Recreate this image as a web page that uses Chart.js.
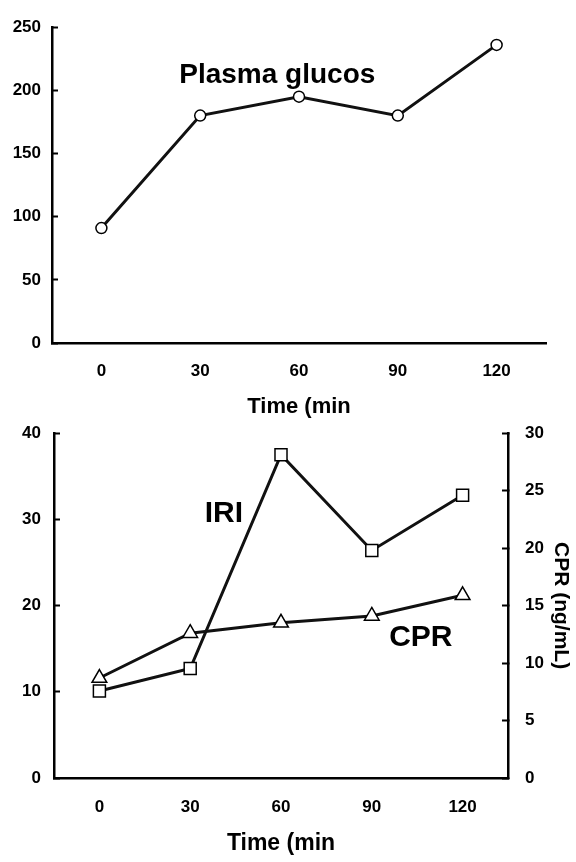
<!DOCTYPE html>
<html>
<head>
<meta charset="utf-8">
<script src="https://cdn.jsdelivr.net/npm/chart.js@4.4.1/dist/chart.umd.min.js"></script>
<style>
  html, body { margin: 0; padding: 0; background: #fff; }
  body { width: 576px; height: 862px; position: relative; overflow: hidden; }
  canvas { position: absolute; left: 0; }
  #glucose { top: 0; }
  #insulin { top: 400px; }
</style>
</head>
<body>
<canvas id="glucose" width="576" height="420"></canvas>
<canvas id="insulin" width="576" height="462"></canvas>
<script>
// data
var timeLabels = ['0', '30', '60', '90', '120'];
var glucose = [91, 180, 195, 180, 236];
var iri = [10.1, 12.7, 37.5, 26.4, 32.8];
var cpr = [8.7, 12.6, 13.5, 14.1, 15.9];

var glucoseTicks = [0, 50, 100, 150, 200, 250];
var iriTicks = [0, 10, 20, 30, 40];
var cprTicks = [0, 5, 10, 15, 20, 25, 30];

var FONT = "'Liberation Sans', Arial, Helvetica, sans-serif";
Chart.defaults.font.family = FONT;
Chart.defaults.font.weight = 'bold';
Chart.defaults.color = '#000';

// text notes placed in data coordinates
var notesPlugin = {
    id: 'notes',
    afterDatasetsDraw: function (chart, args, opts) {
        var ctx = chart.ctx;
        (opts.items || []).forEach(function (n) {
            var x = chart.scales.x.getPixelForValue(n.x);
            var y = chart.scales[n.axis].getPixelForValue(n.y);
            ctx.save();
            ctx.font = 'bold ' + n.size + 'px ' + FONT;
            ctx.fillStyle = '#000';
            ctx.textAlign = 'center';
            ctx.textBaseline = 'middle';
            ctx.fillText(n.text, x, y);
            ctx.restore();
        });
    }
};

function fixedTicks(list) {
    return function (scale) {
        scale.ticks = list.map(function (v) { return { value: v }; });
    };
}

function yAxis(pos, max, list, width, pad, title) {
    return {
        type: 'linear',
        position: pos,
        min: 0,
        max: max,
        afterBuildTicks: fixedTicks(list),
        afterFit: function (s) { s.width = width; },
        border: { display: true, color: '#000', width: 2.5 },
        grid: { drawOnChartArea: false, drawTicks: true, tickLength: -6, tickColor: '#000', tickWidth: 2 },
        ticks: { padding: pad, font: { size: 17, weight: 'bold' }, color: '#000' },
        title: title || { display: false }
    };
}

function xAxis(height, pad, titleSize, titlePadBottom) {
    return {
        type: 'category',
        offset: true,
        afterFit: function (s) { s.height = height; },
        border: { display: true, color: '#000', width: 2.5 },
        grid: { display: false, drawTicks: false },
        ticks: { padding: pad, font: { size: 17, weight: 'bold' }, color: '#000' },
        title: {
            display: true,
            text: 'Time (min',
            color: '#000',
            font: { size: titleSize, weight: 'bold' },
            padding: { top: 0, bottom: titlePadBottom }
        }
    };
}

function lineSet(label, data, style, radius, axis) {
    return {
        label: label,
        data: data,
        yAxisID: axis,
        borderColor: '#111',
        borderWidth: 3,
        tension: 0,
        pointStyle: style,
        pointRadius: radius,
        pointBackgroundColor: '#fff',
        pointBorderColor: '#000',
        pointBorderWidth: 1.5
    };
}

new Chart(document.getElementById('glucose'), {
    type: 'line',
    data: {
        labels: timeLabels,
        datasets: [lineSet('Plasma glucos', glucose, 'circle', 5.5, 'y')]
    },
    options: {
        responsive: false,
        animation: false,
        devicePixelRatio: 1,
        layout: { padding: { top: 17, right: 30, bottom: 0, left: 0 } },
        scales: {
            x: xAxis(77, 18, 22, 0),
            y: yAxis('left', 250, glucoseTicks, 52, 17)
        },
        plugins: {
            legend: { display: false },
            tooltip: { enabled: false },
            notes: { items: [{ text: 'Plasma glucos', x: 1.78, y: 212, axis: 'y', size: 28 }] }
        }
    },
    plugins: [notesPlugin]
});

new Chart(document.getElementById('insulin'), {
    type: 'line',
    data: {
        labels: timeLabels,
        datasets: [
            lineSet('CPR', cpr, 'triangle', 8.5, 'y2'),
            lineSet('IRI', iri, 'rect', 8.5, 'y')
        ]
    },
    options: {
        responsive: false,
        animation: false,
        devicePixelRatio: 1,
        layout: { padding: { top: 29, right: 0, bottom: 0, left: 0 } },
        scales: {
            x: xAxis(84, 19, 23, 5),
            y: yAxis('left', 40, iriTicks, 54, 19),
            y2: yAxis('right', 30, cprTicks, 68, 23, {
                display: true,
                text: 'CPR (ng/mL)',
                color: '#000',
                font: { size: 21, weight: 'bold' },
                padding: { top: 3, bottom: 0 }
            })
        },
        plugins: {
            legend: { display: false },
            tooltip: { enabled: false },
            notes: {
                items: [
                    { text: 'IRI', x: 1.37, y: 30.6, axis: 'y', size: 30 },
                    { text: 'CPR', x: 3.54, y: 12.2, axis: 'y2', size: 30 }
                ]
            }
        }
    },
    plugins: [notesPlugin]
});
</script>
</body>
</html>
